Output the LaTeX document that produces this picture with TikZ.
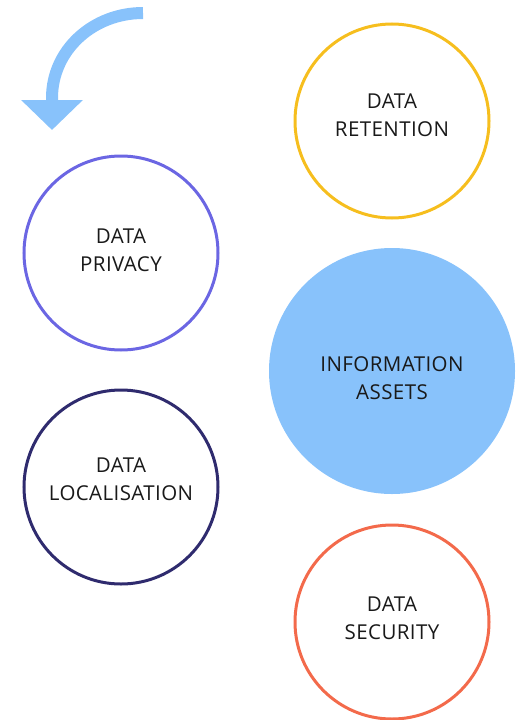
\documentclass[tikz,border=0pt]{standalone}
\usepackage{fontspec}
\setmainfont{Open Sans}[LetterSpace=2]
\usetikzlibrary{arrows.meta}
\definecolor{arrowblue}{HTML}{88C2FB}
\definecolor{privacyblue}{HTML}{6B66E3}
\definecolor{navy}{HTML}{2F2B6E}
\definecolor{gold}{HTML}{F6BE1E}
\definecolor{coral}{HTML}{F36A4B}
\tikzstyle{ring}=[circle,draw,line width=3pt,minimum size=194pt,inner sep=0pt]
\tikzstyle{core}=[circle,fill=arrowblue,minimum size=246pt,inner sep=0pt]
\tikzstyle{caption}=[align=center,font=\fontsize{20.5}{28}\selectfont,text=black!90,inner sep=0pt]
\tikzstyle{curvedarrow}=[draw=arrowblue,line width=12pt,-{Triangle[width=60pt,length=30pt]}]

\begin{document}
\begin{tikzpicture}[x=1pt,y=-1pt]
    \useasboundingbox (0,0) rectangle (525,720);
    % cercles
    \node[ring,draw=gold] (retention) at (392,121) {};
    \node[ring,draw=privacyblue] (privacy) at (121,253) {};
    \node[core] (assets) at (392,371) {};
    \node[ring,draw=navy] (localisation) at (121,487) {};
    \node[ring,draw=coral] (security) at (392,622) {};
    % textes
    \node[caption] (retentiontext) at ([yshift=6]retention.center) {DATA\\RETENTION};
    \node[caption] (privacytext) at ([yshift=3]privacy.center) {DATA\\PRIVACY};
    \node[caption] (assetstext) at ([yshift=-7]assets.center) {INFORMATION\\ASSETS};
    \node[caption] (localisationtext) at ([yshift=8]localisation.center) {DATA\\LOCALISATION};
    \node[caption] (securitytext) at ([yshift=4]security.center) {DATA\\SECURITY};
    % fleche
    \coordinate (tail) at (143,13);
    \coordinate (tip) at (52,130);
    \path[curvedarrow] (tail) .. controls (93,13) and (52,50) .. (52,98) -- (tip);
\end{tikzpicture}
\end{document}
